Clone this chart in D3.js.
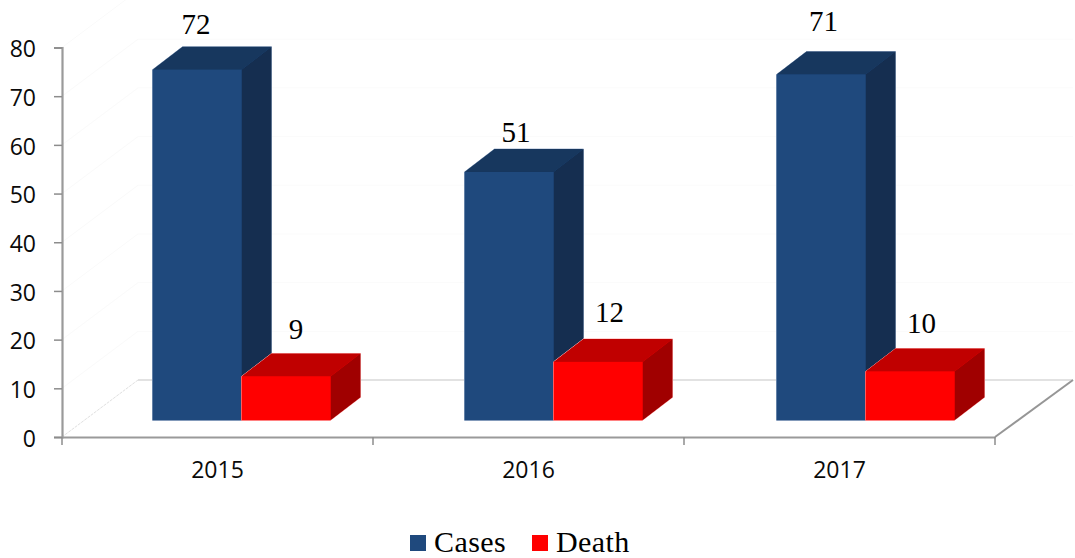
<!DOCTYPE html>
<html>
<head>
<meta charset="utf-8">
<script src="https://cdn.jsdelivr.net/npm/d3@7/dist/d3.min.js"></script>
<style>
html,body{margin:0;padding:0;background:#fff;}
svg{display:block;}
</style>
</head>
<body>
<svg id="chart" width="1075" height="558"></svg>
<script>
const categories = ["2015", "2016", "2017"];
const seriesNames = ["Cases", "Death"];
const cases = [72, 51, 71];
const death = [9, 12, 10];
const yTicks = [0, 10, 20, 30, 40, 50, 60, 70, 80];

const colors = {
  Cases: {front: "#1f497d", top: "#17375e", side: "#152e50", edge: "#a9bad2"},
  Death: {front: "#ff0000", top: "#c00000", side: "#a00000", edge: "#ffb8b8"}
};

const svg = d3.select("#chart");
const y = d3.scaleLinear().domain([0, 80]).range([437, 47.5]);
const x = d3.scaleBand().domain(categories).range([62, 995]);
const xBars = d3.scaleBand().domain(categories).range([62.5, 998.5]);
const inner = d3.scaleBand().domain(seriesNames).range([90, 268]);

const unit = y(0) - y(1);
const floor = {dx: 76, dy: -57};
const barDepth = {dx: 30, dy: -23};
const barBase = y(0) - 16.7;

/* faint walls */
const walls = svg.append("g").attr("fill", "none");
yTicks.slice(1).forEach(v => {
  const yy = y(v);
  walls.append("line").attr("x1", 62 + floor.dx).attr("x2", 995 + floor.dx + 2)
    .attr("y1", yy + floor.dy).attr("y2", yy + floor.dy)
    .attr("stroke", "#fbfbfb").attr("stroke-width", 1);
  walls.append("line").attr("x1", 62).attr("x2", 62 + floor.dx)
    .attr("y1", yy).attr("y2", yy + floor.dy)
    .attr("stroke", "#fafafa").attr("stroke-width", 1);
});
/* floor */
svg.append("line").attr("x1", 62 + floor.dx).attr("x2", 1073)
  .attr("y1", y(0) + floor.dy).attr("y2", y(0) + floor.dy)
  .attr("stroke", "#e2e2e2").attr("stroke-width", 2);
svg.append("line").attr("x1", 62).attr("y1", y(0))
  .attr("x2", 62 + floor.dx).attr("y2", y(0) + floor.dy)
  .attr("stroke", "#e0e0e0").attr("stroke-width", 1).attr("stroke-dasharray", "3 1");
svg.append("line").attr("x1", 995).attr("y1", y(0))
  .attr("x2", 1073).attr("y2", y(0) + floor.dy)
  .attr("stroke", "#969696").attr("stroke-width", 2);

/* axes */
const yAxis = d3.axisLeft(y).tickValues(yTicks).tickSize(8).tickPadding(18);
const gy = svg.append("g").attr("transform", "translate(62,0)").call(yAxis);
const xAxis = d3.axisBottom(x).tickSize(0).tickPadding(25);
const gx = svg.append("g").attr("transform", `translate(0,${y(0)})`).call(xAxis);
const boundaries = categories.map(c => x(c)).concat([x.range()[1]]);
gx.selectAll("line.boundary").data(boundaries).enter().append("line")
  .attr("class", "boundary")
  .attr("x1", d => d).attr("x2", d => d).attr("y1", 0).attr("y2", 8)
  .attr("stroke", "#8c8c8c").attr("stroke-width", 1.5);
[gy, gx].forEach(g => {
  g.selectAll("text").attr("font-family", "'Open Sans'").attr("font-size", 23).attr("fill", "#0a0a0a");
  g.select(".domain").attr("stroke", "#9a9a9a").attr("stroke-width", 2.2);
  g.selectAll(".tick line").attr("stroke", "#8c8c8c").attr("stroke-width", 1.5);
});
gy.selectAll("text").attr("dy", "0.4em");

/* bars */
const rows = [];
categories.forEach((c, i) => {
  rows.push({c, s: "Cases", v: cases[i]});
  rows.push({c, s: "Death", v: death[i]});
});
function poly(pts) {
  const p = d3.path();
  p.moveTo(pts[0][0], pts[0][1]);
  pts.slice(1).forEach(q => p.lineTo(q[0], q[1]));
  p.closePath();
  return p.toString();
}
const bw = inner.bandwidth();
const bars = svg.append("g").selectAll("g").data(rows).enter().append("g");
bars.each(function(d) {
  const g = d3.select(this);
  const x0 = xBars(d.c) + inner(d.s), x1 = x0 + bw;
  const top = barBase - d.v * unit;
  const {dx, dy} = barDepth;
  const col = colors[d.s];
  g.append("path")
    .attr("d", poly([[x0, top], [x0 + dx, top + dy], [x1 + dx, top + dy], [x1 + dx, barBase + dy], [x1, barBase], [x0, barBase]]))
    .attr("fill", col.front).attr("stroke", col.edge).attr("stroke-width", 1);
  g.append("path").attr("d", poly([[x1, top], [x1 + dx, top + dy], [x1 + dx, barBase + dy], [x1, barBase]]))
    .attr("fill", col.side);
  g.append("path").attr("d", poly([[x0, top], [x0 + dx, top + dy], [x1 + dx, top + dy], [x1, top]]))
    .attr("fill", col.top);
  g.append("rect").attr("x", x0).attr("y", top).attr("width", bw).attr("height", barBase - top)
    .attr("fill", col.front);
});

/* value labels: hand-placed in the original, so each has its own nudge */
const labelNudgeX = [-1, 10, 7, 11.5, 2.5, 11.5];
const labelNudgeY = [35.7, 37, 30, 40, 44, 39];
svg.append("g").selectAll("text").data(rows).enter().append("text")
  .attr("x", (d, i) => xBars(d.c) + inner(d.s) + bw / 2 + labelNudgeX[i])
  .attr("y", (d, i) => barBase - d.v * unit - labelNudgeY[i])
  .attr("text-anchor", "middle")
  .attr("font-family", "'Liberation Serif'").attr("font-size", 29).attr("fill", "#000")
  .text(d => d.v);

/* legend */
const legendX = d3.scaleOrdinal().domain(seriesNames).range([410, 532]);
const legend = svg.append("g").selectAll("g").data(seriesNames).enter().append("g")
  .attr("transform", d => `translate(${legendX(d)},535)`);
legend.append("rect").attr("width", 16).attr("height", 16).attr("fill", d => colors[d].front);
legend.append("text").attr("x", 24).attr("y", 16.5)
  .attr("font-family", "'Liberation Serif'").attr("font-size", 30).attr("letter-spacing", 0.4).attr("fill", "#000")
  .text(d => d);
</script>
</body>
</html>
